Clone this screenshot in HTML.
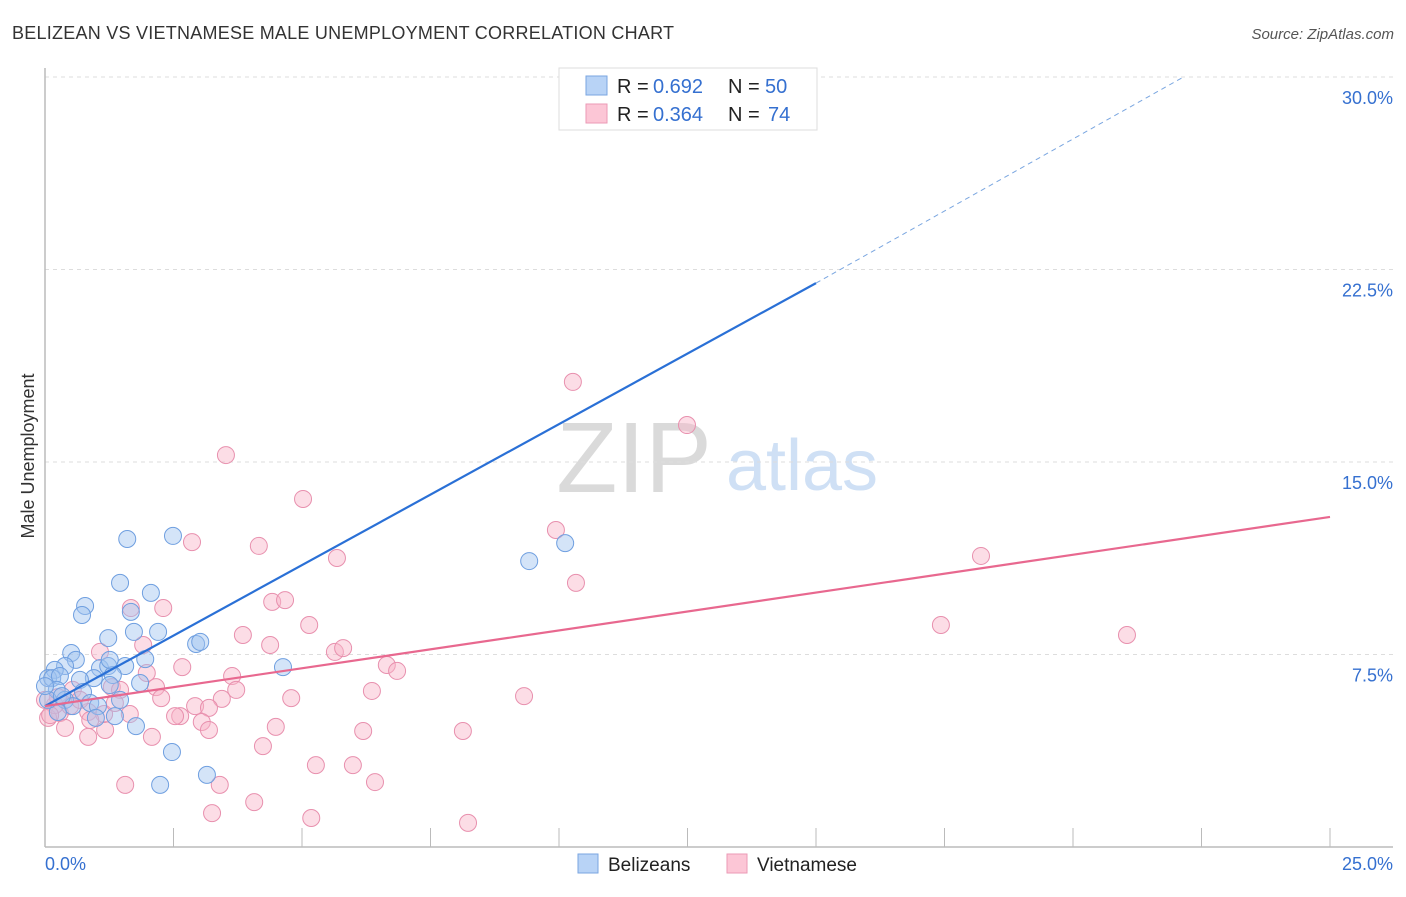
<!DOCTYPE html>
<html><head><meta charset="utf-8"><style>
body{margin:0;background:#fff;font-family:"Liberation Sans",sans-serif;}
svg text{font-family:"Liberation Sans",sans-serif;}
</style></head><body>
<svg id="chart" width="1406" height="892" viewBox="0 0 1406 892">
<text x="12" y="39" font-size="18" fill="#333" textLength="662">BELIZEAN VS VIETNAMESE MALE UNEMPLOYMENT CORRELATION CHART</text>
<text x="1394" y="39" font-size="15" fill="#555" font-style="italic" text-anchor="end">Source: ZipAtlas.com</text>
<text x="34" y="456" font-size="18" fill="#333" transform="rotate(-90 34 456)" text-anchor="middle">Male Unemployment</text>
<g>
<text x="634" y="492" font-size="100" fill="#dadada" font-family="Liberation Serif, serif" text-anchor="middle">ZIP</text>
<text x="802" y="490" font-size="72" fill="#cfe0f5" text-anchor="middle">atlas</text>
</g>
<g id="grid"></g>
<g id="marks"></g>
<g>
<rect x="559" y="68" width="258" height="62" fill="#fff" stroke="#ddd"/>
<rect x="586" y="76" width="21" height="19" fill="#b8d3f6" stroke="#7aa6e0"/>
<rect x="586" y="104" width="21" height="19" fill="#fcc6d6" stroke="#eb9ab6"/>
<text x="617" y="93" font-size="20" fill="#222">R =</text>
<text x="653" y="93" font-size="20" fill="#3570d0">0.692</text>
<text x="728" y="93" font-size="20" fill="#222">N =</text>
<text x="765" y="93" font-size="20" fill="#3570d0">50</text>
<text x="617" y="121" font-size="20" fill="#222">R =</text>
<text x="653" y="121" font-size="20" fill="#3570d0">0.364</text>
<text x="728" y="121" font-size="20" fill="#222">N =</text>
<text x="768" y="121" font-size="20" fill="#3570d0">74</text>
</g>
<g>
<rect x="578" y="854" width="20" height="19" fill="#b8d3f6" stroke="#7aa6e0"/>
<text x="608" y="871" font-size="19" fill="#222">Belizeans</text>
<rect x="727" y="854" width="20" height="19" fill="#fcc6d6" stroke="#eb9ab6"/>
<text x="757" y="871" font-size="19" fill="#222">Vietnamese</text>
</g>
</svg>
<script>
const xTicks=[0,25];
const xTickLabels=["0.0%","25.0%"];
const yTicks=[7.5,15,22.5,30];
const yTickLabels=["7.5%","15.0%","22.5%","30.0%"];
const blueX=[1.60,2.49,1.46,2.06,0.78,0.72,1.67,1.23,1.73,2.20,2.94,3.02,0.51,0.60,1.95,0.39,0.19,0.06,0.14,0.29,1.07,1.23,1.56,1.32,0.95,0.68,1.85,4.63,1.26,0.23,0.74,0.39,0.88,1.03,0.54,1.36,1.77,0.99,0.25,2.47,2.24,3.15,9.42,10.12,12.55,0.06,0.0,0.33,1.26,1.46];
const blueY=[12.0,12.12,10.29,9.90,9.39,9.04,9.16,8.14,8.38,8.38,7.91,7.99,7.56,7.29,7.32,7.05,6.90,6.58,6.58,6.66,6.97,7.05,7.05,6.70,6.58,6.51,6.39,7.01,6.31,6.12,6.04,5.73,5.61,5.49,5.49,5.10,4.71,5.03,5.26,3.70,2.42,2.81,11.14,11.84,29.8,5.73,6.27,5.88,7.29,5.73];
const pinkX=[3.52,5.02,10.27,12.49,2.86,4.16,5.68,9.94,10.33,18.21,17.43,21.05,1.67,2.30,4.42,4.67,5.14,3.85,4.38,1.91,5.64,5.80,1.07,2.67,3.64,6.65,6.85,1.98,1.30,1.46,2.16,3.72,6.36,9.32,2.26,3.44,4.79,2.92,2.63,2.53,3.19,1.65,0.54,0.29,0.06,0.19,0.39,0.84,1.17,2.08,3.05,3.19,4.49,6.19,8.13,4.24,0.84,5.27,5.99,1.56,3.40,6.42,4.07,3.25,5.18,8.23,0.10,0.49,0.68,1.15,0.25,0.0,0.88,1.36];
const pinkY=[15.27,13.56,18.12,16.44,11.88,11.73,11.26,12.35,10.29,11.34,8.65,8.26,9.31,9.31,9.55,9.62,8.65,8.26,7.87,7.87,7.60,7.75,7.60,7.01,6.66,7.09,6.86,6.78,6.23,6.12,6.23,6.12,6.08,5.88,5.80,5.77,5.80,5.49,5.10,5.10,5.42,5.18,6.12,5.22,5.03,5.53,4.64,4.29,4.56,4.29,4.87,4.56,4.68,4.52,4.52,3.93,5.26,3.19,3.19,2.42,2.42,2.53,1.75,1.32,1.13,0.94,5.14,5.49,5.73,5.18,5.84,5.73,4.95,5.61];
const blueTrend=[0,5.49,15,21.97];
const blueTrendExt=[15,21.97,22.15,30];
const pinkTrend=[0,5.49,25,12.86];
const NS="http://www.w3.org/2000/svg";
const sx=v=>45+v/25*1285;
const sy=v=>847-v/7.5*192.5;
function mk(tag,attrs,parent){const e=document.createElementNS(NS,tag);for(const k in attrs)e.setAttribute(k,attrs[k]);parent.appendChild(e);return e;}
const grid=document.getElementById('grid');const marks=document.getElementById('marks');
yTicks.forEach((t,i)=>{
 const l=mk('line',{x1:45,x2:1393,y1:sy(t),y2:sy(t),stroke:'#ddd','stroke-dasharray':'4,4'},grid);
 
 
 const tx=mk('text',{x:1393,y:sy(t)+27,'font-size':18,fill:'#3570d0','text-anchor':'end'},grid);tx.textContent=yTickLabels[i];
 
 
});
for(let k=1;k<=10;k++){const t=k*2.5;
 const l=mk('line',{x1:sx(t),x2:sx(t),y1:828,y2:847,stroke:'#bbb'},grid);
 
 }
const ax=mk('line',{x1:45,x2:1393,y1:847,y2:847,stroke:'#bbb','stroke-width':1.5},grid);


const ay=mk('line',{x1:45,x2:45,y1:68,y2:847,stroke:'#bbb','stroke-width':1.5},grid);


xTicks.forEach((t,i)=>{const tx=mk('text',{x:sx(t)+(i==0?0:63),y:870,'font-size':18,fill:'#3570d0','text-anchor':i==0?'start':'end'},grid);tx.textContent=xTickLabels[i];
 
 });
pinkX.forEach((x,i)=>{const c=mk('circle',{cx:sx(x),cy:sy(pinkY[i]),r:8.5,fill:'rgba(248,180,200,0.45)',stroke:'#e890ae','stroke-width':1},marks);
 
 });
blueX.forEach((x,i)=>{const c=mk('circle',{cx:sx(x),cy:sy(blueY[i]),r:8.5,fill:'rgba(160,196,240,0.45)',stroke:'#6f9fe0','stroke-width':1},marks);
 
 });
const bt=mk('line',{x1:sx(blueTrend[0]),y1:sy(blueTrend[1]),x2:sx(blueTrend[2]),y2:sy(blueTrend[3]),stroke:'#2a70d6','stroke-width':2.2},marks);


const be=mk('line',{x1:sx(blueTrendExt[0]),y1:sy(blueTrendExt[1]),x2:sx(blueTrendExt[2]),y2:sy(blueTrendExt[3]),stroke:'#7aa6e0','stroke-width':1,'stroke-dasharray':'5,4'},marks);


const pt=mk('line',{x1:sx(pinkTrend[0]),y1:sy(pinkTrend[1]),x2:sx(pinkTrend[2]),y2:sy(pinkTrend[3]),stroke:'#e8688f','stroke-width':2.2},marks);


</script>
</body></html>
